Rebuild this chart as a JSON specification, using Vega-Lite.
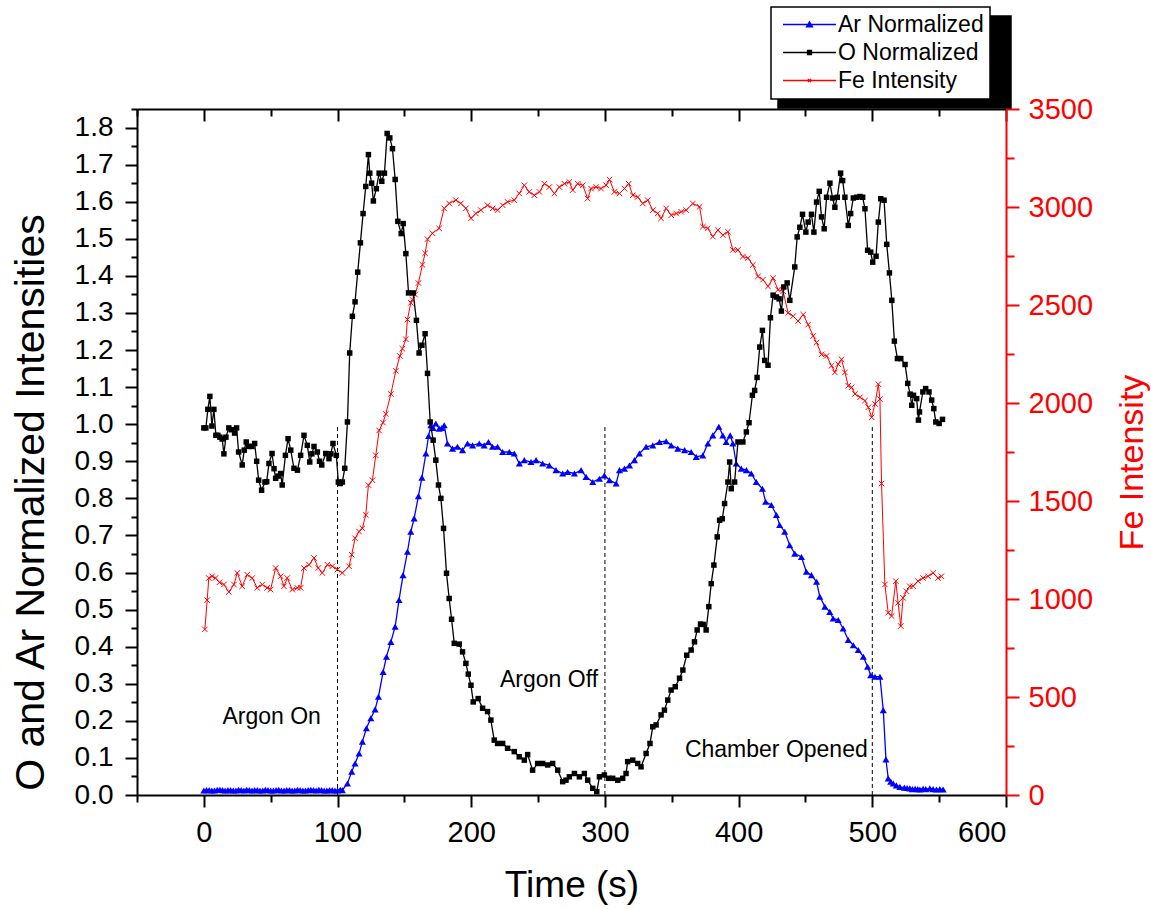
{
  "$schema": "https://vega.github.io/schema/vega-lite/v6.json",
  "width": 869,
  "height": 686,
  "autosize": {"type": "none"},
  "padding": {"left": 137, "top": 109, "right": 145, "bottom": 114},
  "background": "white",
  "config": {
    "view": {"stroke": null},
    "axis": {"labelFont": "Liberation Sans", "titleFont": "Liberation Sans", "titleFontWeight": "normal", "grid": false, "domainWidth": 2, "tickWidth": 2, "labelColor": "black", "titleColor": "black", "domainColor": "black", "tickColor": "black"},
    "legend": {"labelFont": "Liberation Sans"}
  },
  "datasets": {
    "ar": [
      {"t":0,"v":0.012},{"t":2,"v":0.013},{"t":4,"v":0.013},{"t":6,"v":0.012},{"t":8,"v":0.012},{"t":10,"v":0.014},{"t":12,"v":0.014},{"t":14,"v":0.013},{"t":16,"v":0.012},{"t":18,"v":0.013},{"t":20,"v":0.013},{"t":22,"v":0.012},{"t":24,"v":0.012},{"t":26,"v":0.014},{"t":28,"v":0.013},{"t":30,"v":0.012},{"t":32,"v":0.014},{"t":34,"v":0.013},{"t":36,"v":0.012},{"t":38,"v":0.013},{"t":40,"v":0.013},{"t":42,"v":0.012},{"t":44,"v":0.012},{"t":46,"v":0.014},{"t":48,"v":0.013},{"t":50,"v":0.012},{"t":52,"v":0.012},{"t":54,"v":0.013},{"t":56,"v":0.014},{"t":58,"v":0.012},{"t":60,"v":0.012},{"t":62,"v":0.013},{"t":64,"v":0.013},{"t":66,"v":0.012},{"t":68,"v":0.012},{"t":70,"v":0.014},{"t":72,"v":0.013},{"t":74,"v":0.012},{"t":76,"v":0.012},{"t":78,"v":0.013},{"t":80,"v":0.014},{"t":82,"v":0.013},{"t":84,"v":0.012},{"t":86,"v":0.014},{"t":88,"v":0.013},{"t":90,"v":0.012},{"t":92,"v":0.012},{"t":94,"v":0.013},{"t":96,"v":0.013},{"t":98,"v":0.012},{"t":100,"v":0.012},{"t":102,"v":0.014},{"t":103.6,"v":0.013},
      {"t":107.4,"v":0.031},{"t":110.6,"v":0.063},{"t":113.1,"v":0.085},{"t":116.1,"v":0.112},{"t":118.6,"v":0.144},{"t":121.6,"v":0.18},{"t":124.9,"v":0.207},{"t":128.1,"v":0.231},{"t":130.6,"v":0.265},{"t":134.1,"v":0.332},{"t":136.6,"v":0.373},{"t":139.9,"v":0.413},{"t":143.1,"v":0.454},{"t":146,"v":0.526},{"t":149,"v":0.593},{"t":152.3,"v":0.656},{"t":154.8,"v":0.71},{"t":157.3,"v":0.746},{"t":160.5,"v":0.806},{"t":163.1,"v":0.856},{"t":166.1,"v":0.921},{"t":168.1,"v":0.968},{"t":169.8,"v":0.997},{"t":171.5,"v":0.99},{"t":173.5,"v":1.002},{"t":176,"v":0.988},{"t":178,"v":0.99},{"t":179.8,"v":0.997},{"t":182.2,"v":0.948},{"t":186,"v":0.934},{"t":189.7,"v":0.939},{"t":193.5,"v":0.93},{"t":197.2,"v":0.948},{"t":201,"v":0.943},{"t":206,"v":0.948},{"t":209.7,"v":0.943},{"t":212.9,"v":0.952},{"t":215.9,"v":0.939},{"t":219.7,"v":0.939},{"t":223.5,"v":0.925},{"t":228.5,"v":0.925},{"t":232.2,"v":0.921},{"t":236,"v":0.894},{"t":239.7,"v":0.903},{"t":244.7,"v":0.898},{"t":248.5,"v":0.903},{"t":253.4,"v":0.894},{"t":258.4,"v":0.889},{"t":263.4,"v":0.876},{"t":268.4,"v":0.867},{"t":272.1,"v":0.871},{"t":277.2,"v":0.867},{"t":282.2,"v":0.876},{"t":285.9,"v":0.858},{"t":290.9,"v":0.844},{"t":295.9,"v":0.853},{"t":299.6,"v":0.862},{"t":303.4,"v":0.849},{"t":308.4,"v":0.84},{"t":310.9,"v":0.876},{"t":314.6,"v":0.88},{"t":318.4,"v":0.889},{"t":322.1,"v":0.903},{"t":325.8,"v":0.921},{"t":330.8,"v":0.939},{"t":335.8,"v":0.943},{"t":340.8,"v":0.952},{"t":345.8,"v":0.954},{"t":349.6,"v":0.943},{"t":354.5,"v":0.934},{"t":359.6,"v":0.93},{"t":364.5,"v":0.925},{"t":368.3,"v":0.912},{"t":373.2,"v":0.916},{"t":377,"v":0.948},{"t":380.7,"v":0.97},{"t":385.2,"v":0.993},{"t":388.2,"v":0.97},{"t":390.7,"v":0.952},{"t":393.7,"v":0.97},{"t":395.7,"v":0.948},{"t":398.2,"v":0.894},{"t":402,"v":0.88},{"t":405.8,"v":0.876},{"t":409.5,"v":0.867},{"t":413.2,"v":0.844},{"t":417.8,"v":0.826},{"t":420.2,"v":0.791},{"t":424.5,"v":0.782},{"t":428.3,"v":0.755},{"t":430.7,"v":0.728},{"t":434.5,"v":0.71},{"t":438.2,"v":0.674},{"t":442,"v":0.651},{"t":447,"v":0.642},{"t":450.7,"v":0.602},{"t":454.5,"v":0.593},{"t":458.3,"v":0.575},{"t":460.7,"v":0.535},{"t":464.5,"v":0.508},{"t":468.2,"v":0.494},{"t":470.7,"v":0.476},{"t":474.5,"v":0.472},{"t":478.2,"v":0.449},{"t":482,"v":0.418},{"t":485.8,"v":0.404},{"t":489.5,"v":0.391},{"t":493.3,"v":0.373},{"t":496.5,"v":0.346},{"t":498.8,"v":0.323},{"t":502,"v":0.319},{"t":505.7,"v":0.319},{"t":508.2,"v":0.229},{"t":510.2,"v":0.096},{"t":511.9,"v":0.045},{"t":513.8,"v":0.036},{"t":515.7,"v":0.031},{"t":518,"v":0.026},{"t":520.6,"v":0.022},{"t":524,"v":0.02},{"t":526,"v":0.019},{"t":528.1,"v":0.018},{"t":530,"v":0.016},{"t":532,"v":0.017},{"t":534,"v":0.016},{"t":535.6,"v":0.015},{"t":538,"v":0.017},{"t":540,"v":0.016},{"t":543,"v":0.018},{"t":545.5,"v":0.016},{"t":548,"v":0.015},{"t":550.5,"v":0.016},{"t":553,"v":0.015}
    ],
    "o": [
      {"t":0,"v":0.99},{"t":1.5,"v":0.99},{"t":3,"v":1.04},{"t":4.5,"v":1.075},{"t":6,"v":0.995},{"t":7.5,"v":1.04},{"t":9,"v":0.97},{"t":10.5,"v":0.97},{"t":12,"v":0.965},{"t":13.7,"v":0.96},{"t":15,"v":0.92},{"t":16.5,"v":0.965},{"t":18.7,"v":0.99},{"t":20.5,"v":0.985},{"t":23,"v":0.976},{"t":24.5,"v":0.99},{"t":26,"v":0.925},{"t":28.7,"v":0.89},{"t":30.2,"v":0.93},{"t":31.7,"v":0.952},{"t":33.5,"v":0.94},{"t":36,"v":0.94},{"t":38,"v":0.948},{"t":39.5,"v":0.9},{"t":41,"v":0.849},{"t":43.2,"v":0.822},{"t":45.7,"v":0.844},{"t":47,"v":0.845},{"t":48.7,"v":0.894},{"t":51,"v":0.921},{"t":52.5,"v":0.88},{"t":53.7,"v":0.854},{"t":55.5,"v":0.86},{"t":57.4,"v":0.867},{"t":58.6,"v":0.836},{"t":61,"v":0.916},{"t":63,"v":0.961},{"t":65,"v":0.93},{"t":67.4,"v":0.881},{"t":70,"v":0.876},{"t":72.4,"v":0.916},{"t":74.9,"v":0.97},{"t":77.4,"v":0.943},{"t":79.2,"v":0.898},{"t":80.8,"v":0.92},{"t":82.4,"v":0.94},{"t":84.9,"v":0.925},{"t":86.5,"v":0.9},{"t":88.2,"v":0.89},{"t":91.2,"v":0.921},{"t":93.6,"v":0.907},{"t":95,"v":0.92},{"t":96.6,"v":0.948},{"t":99.1,"v":0.916},{"t":100.6,"v":0.844},{"t":102,"v":0.84},{"t":103.6,"v":0.844},{"t":105.4,"v":0.881},{"t":107.4,"v":1.006},{"t":109.1,"v":1.192},{"t":111.1,"v":1.291},{"t":113.1,"v":1.33},{"t":115.1,"v":1.41},{"t":117.1,"v":1.489},{"t":119.1,"v":1.568},{"t":121.1,"v":1.641},{"t":123.1,"v":1.727},{"t":124.1,"v":1.677},{"t":125.5,"v":1.65},{"t":126.8,"v":1.602},{"t":129,"v":1.635},{"t":131.1,"v":1.677},{"t":133.1,"v":1.655},{"t":135.1,"v":1.677},{"t":137.1,"v":1.784},{"t":139.1,"v":1.772},{"t":141.1,"v":1.743},{"t":143.1,"v":1.66},{"t":145.1,"v":1.547},{"t":147.6,"v":1.514},{"t":149.1,"v":1.541},{"t":151.1,"v":1.46},{"t":153.1,"v":1.354},{"t":156.6,"v":1.354},{"t":159,"v":1.28},{"t":161,"v":1.192},{"t":163.1,"v":1.213},{"t":165.5,"v":1.244},{"t":167.3,"v":1.137},{"t":169.3,"v":1.006},{"t":171.5,"v":0.957},{"t":173.5,"v":0.903},{"t":175.5,"v":0.836},{"t":177.3,"v":0.8},{"t":179.3,"v":0.719},{"t":181.5,"v":0.598},{"t":183.5,"v":0.53},{"t":185.3,"v":0.474},{"t":187.3,"v":0.409},{"t":191,"v":0.407},{"t":193.5,"v":0.386},{"t":196,"v":0.355},{"t":197.8,"v":0.326},{"t":199.8,"v":0.296},{"t":201.5,"v":0.251},{"t":205.2,"v":0.26},{"t":208.5,"v":0.234},{"t":212.2,"v":0.225},{"t":214.7,"v":0.202},{"t":217.2,"v":0.148},{"t":219.7,"v":0.139},{"t":223.5,"v":0.139},{"t":227.2,"v":0.126},{"t":232.2,"v":0.117},{"t":235.9,"v":0.103},{"t":239.7,"v":0.094},{"t":242.2,"v":0.109},{"t":245.9,"v":0.067},{"t":249.7,"v":0.085},{"t":253.4,"v":0.085},{"t":257.2,"v":0.081},{"t":260.9,"v":0.085},{"t":264.7,"v":0.067},{"t":268.4,"v":0.036},{"t":270.9,"v":0.04},{"t":273.4,"v":0.049},{"t":277.2,"v":0.058},{"t":280.9,"v":0.049},{"t":284.6,"v":0.058},{"t":287.1,"v":0.04},{"t":290.9,"v":0.018},{"t":293.9,"v":0.009},{"t":295.9,"v":0.049},{"t":299.6,"v":0.054},{"t":302.9,"v":0.045},{"t":305.8,"v":0.045},{"t":309.6,"v":0.04},{"t":313.3,"v":0.045},{"t":315.8,"v":0.058},{"t":317,"v":0.09},{"t":320.8,"v":0.094},{"t":324.5,"v":0.085},{"t":327,"v":0.076},{"t":330.8,"v":0.112},{"t":333.7,"v":0.139},{"t":335.8,"v":0.184},{"t":338.3,"v":0.189},{"t":342,"v":0.216},{"t":344.5,"v":0.229},{"t":347,"v":0.256},{"t":349.5,"v":0.283},{"t":352.6,"v":0.292},{"t":355.8,"v":0.315},{"t":358.3,"v":0.337},{"t":361.2,"v":0.377},{"t":364.5,"v":0.391},{"t":367,"v":0.413},{"t":369,"v":0.445},{"t":371.5,"v":0.461},{"t":373.5,"v":0.46},{"t":375.7,"v":0.445},{"t":377.7,"v":0.508},{"t":379.5,"v":0.57},{"t":381.5,"v":0.62},{"t":384,"v":0.696},{"t":385.8,"v":0.741},{"t":387.8,"v":0.745},{"t":389.5,"v":0.786},{"t":392,"v":0.844},{"t":393.3,"v":0.898},{"t":394.5,"v":0.826},{"t":397,"v":0.844},{"t":399.5,"v":0.952},{"t":403.2,"v":0.952},{"t":405.8,"v":0.979},{"t":407.8,"v":1.004},{"t":410.3,"v":1.078},{"t":412,"v":1.091},{"t":413.8,"v":1.126},{"t":415.8,"v":1.208},{"t":417.8,"v":1.253},{"t":419.5,"v":1.172},{"t":422,"v":1.159},{"t":423.8,"v":1.287},{"t":425.8,"v":1.348},{"t":428.3,"v":1.343},{"t":430.3,"v":1.338},{"t":432,"v":1.305},{"t":433.8,"v":1.37},{"t":436.3,"v":1.381},{"t":438.3,"v":1.334},{"t":442,"v":1.424},{"t":443.8,"v":1.505},{"t":445.8,"v":1.531},{"t":447.8,"v":1.566},{"t":450.3,"v":1.518},{"t":452,"v":1.545},{"t":454.5,"v":1.566},{"t":456.3,"v":1.518},{"t":458.3,"v":1.599},{"t":460.3,"v":1.628},{"t":462,"v":1.559},{"t":464,"v":1.527},{"t":465.8,"v":1.612},{"t":468.3,"v":1.65},{"t":470.3,"v":1.61},{"t":472,"v":1.585},{"t":473.8,"v":1.612},{"t":476.3,"v":1.677},{"t":477.8,"v":1.657},{"t":479.5,"v":1.612},{"t":482,"v":1.536},{"t":483.8,"v":1.568},{"t":485.8,"v":1.61},{"t":488.3,"v":1.612},{"t":490.8,"v":1.614},{"t":492.8,"v":1.612},{"t":494.5,"v":1.581},{"t":496.5,"v":1.469},{"t":498.8,"v":1.464},{"t":500.3,"v":1.437},{"t":502.8,"v":1.453},{"t":504.5,"v":1.545},{"t":506.3,"v":1.608},{"t":508.8,"v":1.604},{"t":510.8,"v":1.485},{"t":512.8,"v":1.408},{"t":514.6,"v":1.334},{"t":516.5,"v":1.224},{"t":518.8,"v":1.177},{"t":521.3,"v":1.177},{"t":524.5,"v":1.161},{"t":526.5,"v":1.11},{"t":528.3,"v":1.081},{"t":529.5,"v":1.051},{"t":530.8,"v":1.078},{"t":533.2,"v":1.069},{"t":534.5,"v":1.011},{"t":535.3,"v":1.033},{"t":537.8,"v":1.087},{"t":539.9,"v":1.096},{"t":542.4,"v":1.087},{"t":544.4,"v":1.065},{"t":546,"v":1.042},{"t":547.5,"v":1.006},{"t":550,"v":1.002},{"t":552.5,"v":1.013}
    ],
    "fe": [
      {"t":0.75,"v":845},{"t":2.5,"v":994},{"t":3.7,"v":1107},{"t":6.2,"v":1116},{"t":8.7,"v":1107},{"t":11.7,"v":1085},{"t":15,"v":1074},{"t":18.7,"v":1036},{"t":22.5,"v":1074},{"t":25,"v":1133},{"t":28.7,"v":1065},{"t":32.4,"v":1124},{"t":36.2,"v":1107},{"t":39.9,"v":1057},{"t":43.7,"v":1074},{"t":47.4,"v":1057},{"t":49.9,"v":1048},{"t":53.7,"v":1158},{"t":57.4,"v":1116},{"t":59.9,"v":1065},{"t":62.4,"v":1107},{"t":66.1,"v":1048},{"t":69.9,"v":1057},{"t":72.4,"v":1057},{"t":74.9,"v":1158},{"t":78.7,"v":1175},{"t":82.4,"v":1209},{"t":85.6,"v":1158},{"t":88.6,"v":1133},{"t":92.4,"v":1175},{"t":96.1,"v":1167},{"t":99.9,"v":1150},{"t":103.6,"v":1133},{"t":108.6,"v":1167},{"t":110.6,"v":1226},{"t":113.1,"v":1310},{"t":116.1,"v":1344},{"t":118.6,"v":1361},{"t":121.1,"v":1429},{"t":123.1,"v":1581},{"t":126.1,"v":1606},{"t":128.6,"v":1733},{"t":131.1,"v":1860},{"t":134,"v":1900},{"t":136.1,"v":1944},{"t":139.9,"v":2046},{"t":143.6,"v":2164},{"t":146.6,"v":2240},{"t":148.5,"v":2277},{"t":151.1,"v":2325},{"t":152.3,"v":2426},{"t":154.8,"v":2511},{"t":156,"v":2527},{"t":158,"v":2553},{"t":160.5,"v":2612},{"t":163.5,"v":2705},{"t":165.5,"v":2764},{"t":167.3,"v":2836},{"t":171,"v":2866},{"t":176,"v":2891},{"t":179.8,"v":2993},{"t":183.5,"v":3018},{"t":188.5,"v":3035},{"t":192.2,"v":3018},{"t":196,"v":2993},{"t":199.8,"v":2942},{"t":203.5,"v":2967},{"t":207.2,"v":2984},{"t":212.2,"v":3009},{"t":216,"v":2993},{"t":219.7,"v":2984},{"t":223.5,"v":3009},{"t":227.2,"v":3026},{"t":232.2,"v":3035},{"t":235.9,"v":3069},{"t":239.7,"v":3111},{"t":243.4,"v":3077},{"t":247.2,"v":3060},{"t":251,"v":3077},{"t":254.7,"v":3119},{"t":258.4,"v":3102},{"t":262.2,"v":3069},{"t":265.9,"v":3102},{"t":269.7,"v":3119},{"t":273.4,"v":3128},{"t":275.9,"v":3086},{"t":279.7,"v":3119},{"t":283.4,"v":3111},{"t":287.1,"v":3043},{"t":289.6,"v":3094},{"t":293.4,"v":3102},{"t":297.1,"v":3094},{"t":300.9,"v":3111},{"t":303.4,"v":3140},{"t":307.1,"v":3077},{"t":310.9,"v":3069},{"t":314.6,"v":3094},{"t":317.8,"v":3119},{"t":320.8,"v":3060},{"t":324.5,"v":3051},{"t":328.3,"v":3018},{"t":332,"v":3035},{"t":335.8,"v":2984},{"t":339.5,"v":2967},{"t":342,"v":2942},{"t":345.8,"v":2993},{"t":349.6,"v":2958},{"t":353.3,"v":2967},{"t":357,"v":2976},{"t":360.8,"v":2984},{"t":365.8,"v":3018},{"t":370.8,"v":3001},{"t":373.3,"v":2900},{"t":377,"v":2891},{"t":380.7,"v":2849},{"t":384.5,"v":2882},{"t":388.2,"v":2857},{"t":392,"v":2874},{"t":395.7,"v":2781},{"t":399.5,"v":2781},{"t":403.2,"v":2747},{"t":407,"v":2739},{"t":410.7,"v":2705},{"t":414.5,"v":2646},{"t":418.2,"v":2629},{"t":422,"v":2595},{"t":425.8,"v":2637},{"t":429.5,"v":2578},{"t":433.3,"v":2570},{"t":437,"v":2460},{"t":440.8,"v":2443},{"t":444.5,"v":2418},{"t":448.3,"v":2451},{"t":452,"v":2400},{"t":455.8,"v":2342},{"t":458.3,"v":2308},{"t":462,"v":2248},{"t":465.8,"v":2240},{"t":469.5,"v":2190},{"t":472,"v":2156},{"t":474.5,"v":2198},{"t":477,"v":2223},{"t":479.5,"v":2156},{"t":482,"v":2088},{"t":484.5,"v":2080},{"t":487,"v":2046},{"t":490.8,"v":2029},{"t":494.5,"v":2012},{"t":497,"v":1978},{"t":499.5,"v":1927},{"t":502,"v":1995},{"t":504.5,"v":2096},{"t":505.7,"v":2020},{"t":506.9,"v":1589},{"t":509.4,"v":1074},{"t":511.9,"v":930},{"t":514.4,"v":913},{"t":517.6,"v":1091},{"t":519.3,"v":980},{"t":521.3,"v":862},{"t":523,"v":1006},{"t":525.5,"v":1040},{"t":528,"v":1065},{"t":530.5,"v":1065},{"t":534.2,"v":1091},{"t":538,"v":1107},{"t":541.7,"v":1116},{"t":545.5,"v":1133},{"t":549.2,"v":1107},{"t":551.7,"v":1116}
    ],
    "marks": [{"t":100},{"t":300},{"t":500}],
    "notes": [
      {"t":50.7,"v":0.191,"label":"Argon On"},
      {"t":258.2,"v":0.292,"label":"Argon Off"},
      {"t":428.2,"v":0.103,"label":"Chamber Opened"}
    ]
  },
  "resolve": {"scale": {"x": "independent", "y": "independent"}},
  "layer": [
    {
      "data": {"name": "ar"},
      "mark": {"type": "point", "opacity": 0, "size": 1},
      "encoding": {
        "x": {"field": "t", "type": "quantitative", "scale": {"domain": [-50, 600], "nice": false, "zero": false}, "axis": null},
        "y": {"field": "v", "type": "quantitative", "scale": {"domain": [0, 1.85], "nice": false, "zero": false}, "axis": null},
        "fill": {
          "datum": "Ar Normalized ",
          "scale": {"domain": ["Ar Normalized ", "O Normalized ", "Fe Intensity "], "range": ["black", "black", "black"]},
          "legend": {
            "orient": "none", "legendX": 641, "legendY": -93, "title": null, "direction": "vertical",
            "fillColor": "black", "strokeColor": "black", "padding": 6,
            "labelFontSize": 23, "labelColor": "black", "labelExpr": "''",
            "symbolSize": 100, "symbolOffset": 23, "labelOffset": 175, "rowPadding": 4,
            "symbolFillColor": "black", "symbolStrokeColor": "black",
            "encode": {"legend": {"update": {"strokeWidth": {"value": 1.5}}}}
          }
        }
      }
    },
    {
      "mark": {"type": "rule", "color": "black", "strokeWidth": 2},
      "encoding": {
        "y": {"datum": 1.843, "type": "quantitative", "scale": {"domain": [0, 1.85], "nice": false, "zero": false}, "axis": null}
      }
    },
    {
      "mark": {"type": "rule", "strokeDash": [4, 3], "color": "black", "strokeWidth": 1},
      "encoding": {
        "y": {"datum": 1, "type": "quantitative", "scale": {"domain": [0, 1.85], "nice": false, "zero": false}, "axis": null}
      }
    },
    {
      "data": {"name": "marks"},
      "mark": {"type": "rule", "strokeDash": [4, 3], "color": "black", "strokeWidth": 1},
      "encoding": {
        "x": {"field": "t", "type": "quantitative", "scale": {"domain": [-50, 600], "nice": false, "zero": false},
          "axis": {"orient": "top", "values": [-50,0,50,100,150,200,250,300,350,400,450,500,550,600], "labels": false, "title": null, "domainColor": "black", "tickColor": "black",
            "tickSize": {"condition": {"test": "datum.value % 100 === 0", "value": -12}, "value": -7}}},
        "y": {"datum": 0, "type": "quantitative", "scale": {"domain": [0, 1.85], "nice": false, "zero": false}, "axis": null},
        "y2": {"datum": 1}
      }
    },
    {
      "data": {"name": "fe"},
      "mark": {"type": "line", "strokeWidth": 1, "point": {"shape": "M-1,-1L1,1M-1,1L1,-1", "filled": false, "size": 30, "strokeWidth": 1}},
      "encoding": {
        "x": {"field": "t", "type": "quantitative", "scale": {"domain": [-50, 600], "nice": false, "zero": false}, "axis": null},
        "y": {"field": "v", "type": "quantitative", "scale": {"domain": [0, 3500], "nice": false, "zero": false},
          "axis": {"orient": "right", "values": [0,250,500,750,1000,1250,1500,1750,2000,2250,2500,2750,3000,3250,3500], "format": "d",
            "labelExpr": "datum.value % 500 === 0 ? datum.label : ''",
            "tickSize": {"condition": {"test": "datum.value % 500 === 0", "value": 13}, "value": 8},
            "labelFontSize": 29, "labelPadding": 9, "labelColor": "red", "tickColor": "red", "domainColor": "red",
            "title": "Fe Intensity", "titleColor": "red", "titleFontSize": 34, "titleX": 136, "titleY": 353, "titleAngle": 270, "titleBaseline": "alphabetic", "titleAlign": "center"}},
        "color": {"datum": "Fe Intensity"}
      }
    },
    {
      "data": {"name": "ar"},
      "mark": {"type": "line", "strokeWidth": 1.3, "point": {"shape": "triangle-up", "filled": true, "size": 50}},
      "encoding": {
        "x": {"field": "t", "type": "quantitative", "scale": {"domain": [-50, 600], "nice": false, "zero": false},
          "axis": {"orient": "bottom", "values": [-50,0,50,100,150,200,250,300,350,400,450,500,550,600], "format": "d",
            "labelExpr": "datum.value % 100 === 0 ? datum.label : ''",
            "tickSize": {"condition": {"test": "datum.value % 100 === 0", "value": 12}, "value": 7},
            "labelFontSize": 29, "labelPadding": 11, "title": "Time (s)", "titleFontSize": 37, "titlePadding": 20}},
        "y": {"field": "v", "type": "quantitative", "scale": {"domain": [0, 1.85], "nice": false, "zero": false},
          "axis": {"orient": "left", "values": [0,0.05,0.1,0.15,0.2,0.25,0.3,0.35,0.4,0.45,0.5,0.55,0.6,0.65,0.7,0.75,0.8,0.85,0.9,0.95,1,1.05,1.1,1.15,1.2,1.25,1.3,1.35,1.4,1.45,1.5,1.55,1.6,1.65,1.7,1.75,1.8,1.85],
            "format": ".1f",
            "labelExpr": "abs(datum.value*10-round(datum.value*10)) < 0.01 ? datum.label : ''",
            "tickSize": {"condition": {"test": "abs(datum.value*10-round(datum.value*10)) < 0.01", "value": 12}, "value": 6},
            "labelFontSize": 28, "labelPadding": 12,
            "title": "O and Ar Normalized Intensities", "titleFontSize": 41, "titleX": -94, "titleY": 393, "titleAngle": 270, "titleBaseline": "alphabetic", "titleAlign": "center"}},
        "color": {
          "datum": "Ar Normalized",
          "scale": {"domain": ["Ar Normalized", "O Normalized", "Fe Intensity"], "range": ["#0000ff", "#000000", "#ff0000"]},
          "legend": {
            "orient": "none", "legendX": 634, "legendY": -102, "title": null, "direction": "vertical",
            "fillColor": "white", "strokeColor": "black", "padding": 6,
            "labelFontSize": 23, "labelColor": "black",
            "symbolSize": 100, "symbolOffset": 21, "labelOffset": 17, "rowPadding": 4,
            "encode": {
              "legend": {"update": {"strokeWidth": {"value": 1.5}}},
              "symbols": {"update": {
                "shape": {"signal": "datum.value === 'Ar Normalized' ? 'M-5.3,0H5.3M0,-0.55L0.6,0.45L-0.6,0.45Z' : datum.value === 'O Normalized' ? 'M-5.3,0H5.3M-0.4,-0.4H0.4V0.4H-0.4Z' : 'M-5.3,0H5.3M-0.3,-0.3L0.3,0.3M-0.3,0.3L0.3,-0.3'"},
                "fill": {"signal": "datum.value === 'Ar Normalized' ? '#0000ff' : datum.value === 'O Normalized' ? '#000000' : '#ff0000'"},
                "stroke": {"signal": "datum.value === 'Ar Normalized' ? '#0000ff' : datum.value === 'O Normalized' ? '#000000' : '#ff0000'"},
                "strokeWidth": {"value": 1.3},
                "opacity": {"value": 1}
              }}
            }
          }
        }
      }
    },
    {
      "data": {"name": "o"},
      "mark": {"type": "line", "strokeWidth": 1.3, "point": {"shape": "square", "filled": true, "size": 30}},
      "encoding": {
        "x": {"field": "t", "type": "quantitative", "scale": {"domain": [-50, 600], "nice": false, "zero": false}, "axis": null},
        "y": {"field": "v", "type": "quantitative", "scale": {"domain": [0, 1.85], "nice": false, "zero": false}, "axis": null},
        "color": {"datum": "O Normalized"}
      }
    },
    {
      "data": {"name": "notes"},
      "mark": {"type": "text", "font": "Liberation Sans", "fontSize": 23, "align": "center", "baseline": "alphabetic", "color": "black"},
      "encoding": {
        "x": {"field": "t", "type": "quantitative", "scale": {"domain": [-50, 600], "nice": false, "zero": false}, "axis": null},
        "y": {"field": "v", "type": "quantitative", "scale": {"domain": [0, 1.85], "nice": false, "zero": false}, "axis": null},
        "text": {"field": "label"}
      }
    }
  ]
}
